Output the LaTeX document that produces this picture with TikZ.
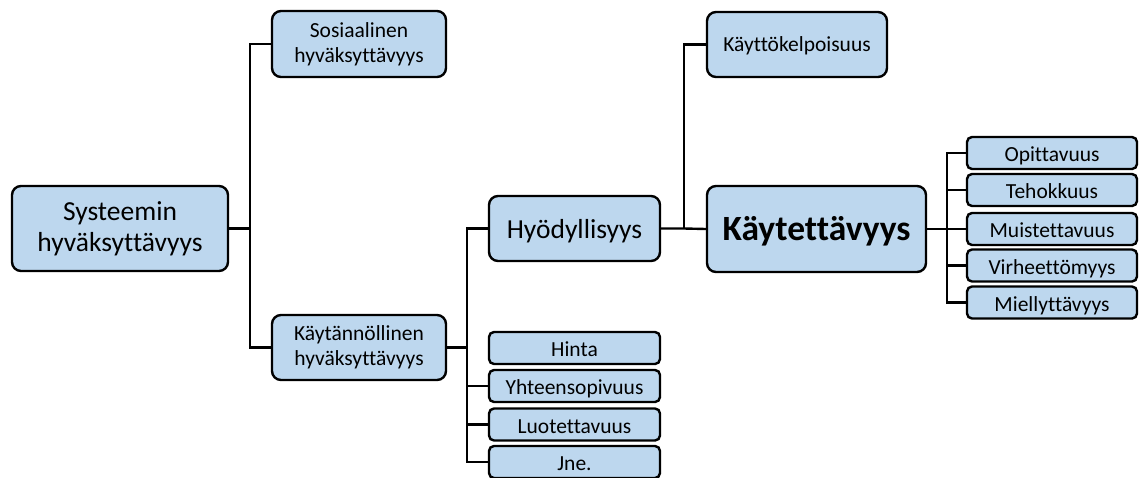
\documentclass[tikz,border=0pt]{standalone}
\usepackage{fontspec}
\setmainfont{Carlito}[Ligatures=NoCommon]
\usepackage{tikz}
\usetikzlibrary{positioning}
\definecolor{BoxBlue}{HTML}{BDD7EE}

\begin{document}
\begin{tikzpicture}[x=1pt, y=-1pt,
    box/.style={draw=black, line width=2.4pt, fill=BoxBlue, rounded corners=9pt,
                inner sep=0pt, align=center},
    bigtext/.style={font=\fontsize{27.5}{30.5}\selectfont},
    midtext/.style={font=\fontsize{21.5}{25}\selectfont},
    oneline/.style={text height=#1, text depth=0pt},
    smallbox/.style={box, rounded corners=5pt, minimum width=171pt, minimum height=32pt,
                font=\fontsize{21.5}{25}\selectfont, oneline=17pt},
    link/.style={draw=black, line width=2.4pt}]
      \useasboundingbox (0,0) rectangle (1139,477);

      % --- Root ---
      \node[box, bigtext, minimum width=216pt, minimum height=85pt] (sys) at (120,228.5)
            {Systeemin\\hyväksyttävyys};

      % --- Second level ---
      \node[box, midtext, minimum width=174pt, minimum height=66pt] (sos) at (359,44)
            {Sosiaalinen\\hyväksyttävyys};
      \node[box, midtext, minimum width=174pt, minimum height=65pt] (kaytan) at (359,347.5)
            {Käytännöllinen\\hyväksyttävyys};

      % --- Third level ---
      \node[box, bigtext, oneline=19.7pt, minimum width=171pt, minimum height=65pt]
            (hyod) at (574.5,228.5) {Hyödyllisyys};
      \node[smallbox] (hinta) at (574.5,348)   {Hinta};
      \node[smallbox] (yht)   at (574.5,386)   {Yhteensopivuus};
      \node[smallbox] (luot)  at (574.5,424.5) {Luotettavuus};
      \node[smallbox] (jne)   at (574.5,462)   {Jne.};

      % --- Fourth level ---
      \node[box, midtext, oneline=14pt, minimum width=180pt, minimum height=65pt]
            (kelp) at (797,44.5) {Käyttökelpoisuus};
      \node[box, font=\fontsize{35.5}{39}\selectfont\bfseries, oneline=22pt,
            minimum width=219pt, minimum height=86pt] (kaytt) at (816.5,229) {Käytettävyys};

      % --- Usability attributes ---
      \node[smallbox, minimum width=170pt] (opit)  at (1052,153)   {Opittavuus};
      \node[smallbox, minimum width=170pt] (teho)  at (1052,190)   {Tehokkuus};
      \node[smallbox, minimum width=170pt] (muist) at (1052,229)   {Muistettavuus};
      \node[smallbox, minimum width=170pt] (virh)  at (1052,265.5) {Virheettömyys};
      \node[smallbox, minimum width=170pt] (miel)  at (1052,302.5) {Miellyttävyys};

      % --- Connectors ---
      \coordinate (bus1) at (250,228.5);
      \coordinate (bus2) at (467,347.5);
      \coordinate (bus3) at (684,228.5);
      \coordinate (bus4) at (947,229);

      \draw[link] (sys.east) -- (bus1);
      \draw[link] (sos.west) -| (bus1) |- (kaytan.west);

      \draw[link] (kaytan.east) -- (bus2);
      \draw[link] (hyod.west) -| (bus2);
      \foreach \n in {yht, luot, jne}
          \draw[link] (bus2) |- (\n.west);

      \draw[link] (hyod.east) -- (bus3) -- (kaytt.west);
      \draw[link] (kelp.west) -| (bus3);

      \draw[link] (kaytt.east) -- (bus4);
      \foreach \n in {opit, teho, muist, virh, miel}
          \draw[link] (bus4) |- (\n.west);
\end{tikzpicture}
\end{document}
